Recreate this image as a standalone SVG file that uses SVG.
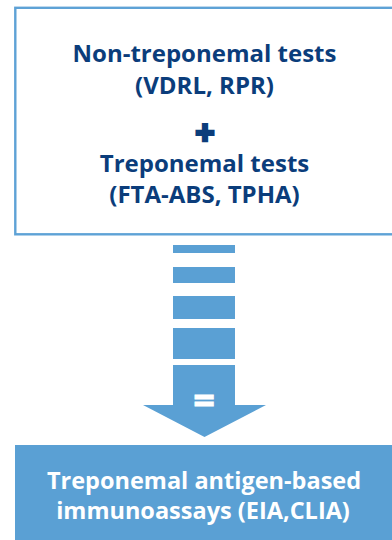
<svg xmlns="http://www.w3.org/2000/svg" width="392" height="540" viewBox="0 0 392 540">
<style>
.t{font-family:"Open Sans","Noto Sans","Liberation Sans",sans-serif;font-weight:700;font-size:24px;text-anchor:middle}
.dk{fill:#0b3d7b}
.wh{fill:#ffffff}
.bl{fill:#5aa0d4}
</style>
<rect width="392" height="540" fill="#ffffff"/>
<g id="node-tests">
<rect x="15.3" y="7.8" width="400" height="226.5" fill="#ffffff" stroke="#5ea2d6" stroke-width="2.4"/>
<text class="t dk" x="204.5" y="62">Non-treponemal tests</text>
<text class="t dk" x="204.5" y="94">(VDRL, RPR)</text>
<text class="t dk" x="205" y="145" style="font-size:34px" stroke="#0b3d7b" stroke-width="2.6" stroke-linejoin="miter">+</text>
<text class="t dk" x="204.5" y="172">Treponemal tests</text>
<text class="t dk" x="204.5" y="203">(FTA-ABS, TPHA)</text>
</g>
<g id="connectors">
<rect class="bl" x="173" y="245" width="62" height="8"/>
<rect class="bl" x="173" y="267" width="62" height="16"/>
<rect class="bl" x="173" y="296" width="62" height="23"/>
<rect class="bl" x="173" y="328" width="62" height="31"/>
<polygon class="bl" points="173,365 235,365 235,405 266,405 204.5,437 143,405 173,405"/>
<text class="t wh" x="204" y="414" style="font-size:38px" stroke="#ffffff" stroke-width="0.8">=</text>
</g>
<g id="node-immunoassays">
<rect class="bl" x="15" y="445" width="390" height="100"/>
<text class="t wh" x="204" y="488.5" style="font-size:23.5px">Treponemal antigen-based</text>
<text class="t wh" x="203" y="518.5" style="font-size:23.5px">immunoassays (EIA,CLIA)</text>
</g>
</svg>
